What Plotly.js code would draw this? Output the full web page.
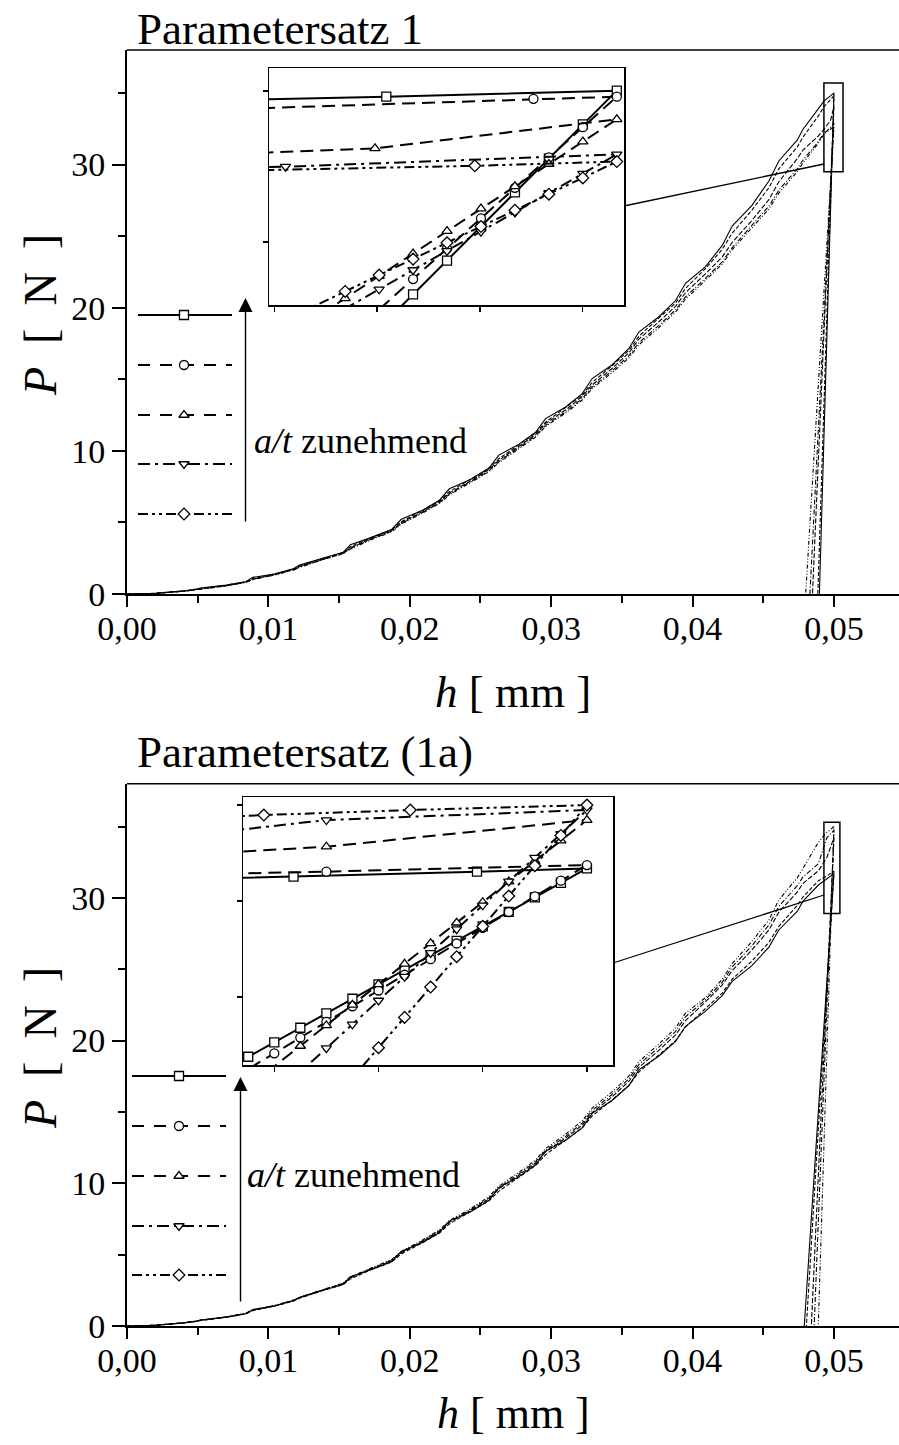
<!DOCTYPE html>
<html>
<head>
<meta charset="utf-8">
<script src="https://cdn.plot.ly/plotly-3.0.1.min.js"></script>
<style>
  html, body { margin: 0; padding: 0; background: #fff; }
  #chart { width: 899px; height: 1445px; }
</style>
</head>
<body>
<div id="chart"></div>
<script>
// Indentation depth h [mm] shared by the loading branches
const hGrid = [0, 0.002, 0.004, 0.0048, 0.0052, 0.007, 0.0084, 0.0089, 0.0105, 0.0118, 0.0122,
  0.0138, 0.0153, 0.0158, 0.0172, 0.0187, 0.0194, 0.0209, 0.0221, 0.0228, 0.0243, 0.0256,
  0.0263, 0.0277, 0.0289, 0.0296, 0.0310, 0.0322, 0.0329, 0.0343, 0.0355, 0.0362, 0.0376,
  0.0388, 0.0395, 0.0409, 0.0421, 0.0428, 0.0442, 0.0454, 0.0461, 0.0474, 0.0478, 0.0489];

// ---- Parametersatz 1: loading force P [N] on hGrid ----
const load1Sq = [0, 0.05, 0.22, 0.30, 0.42, 0.62, 0.86, 1.16, 1.42, 1.78, 2.02, 2.48, 2.92, 3.45, 3.92, 4.50, 5.22, 5.85, 6.55, 7.35, 8.00, 8.80, 9.70, 10.45, 11.30, 12.25, 13.05, 14.00, 15.05, 16.00, 17.15, 18.30, 19.35, 20.50, 21.70, 22.85, 24.35, 25.70, 27.15, 28.85, 30.25, 31.70, 32.45, 33.90];
const load1Ci = [0, 0.05, 0.21, 0.29, 0.38, 0.61, 0.85, 1.08, 1.41, 1.75, 1.95, 2.47, 2.90, 3.30, 3.92, 4.47, 5.05, 5.84, 6.52, 7.15, 8.00, 8.77, 9.45, 10.44, 11.24, 12.00, 13.02, 13.90, 14.78, 15.94, 17.03, 18.00, 19.27, 20.33, 21.35, 22.72, 24.08, 25.20, 26.82, 28.38, 29.70, 31.22, 31.90, 33.40];
const load1Tu = [0, 0.04, 0.20, 0.28, 0.36, 0.58, 0.84, 1.04, 1.38, 1.72, 1.92, 2.42, 2.88, 3.22, 3.85, 4.42, 4.98, 5.75, 6.45, 7.05, 7.90, 8.70, 9.35, 10.30, 11.15, 11.90, 12.85, 13.80, 14.60, 15.75, 16.85, 17.80, 19.00, 20.10, 21.05, 22.35, 23.55, 24.55, 26.10, 27.55, 28.80, 30.40, 31.00, 32.00];
const load1Td = [0, 0.04, 0.20, 0.27, 0.35, 0.57, 0.82, 1.02, 1.36, 1.70, 1.88, 2.40, 2.84, 3.18, 3.80, 4.38, 4.92, 5.70, 6.38, 6.98, 7.82, 8.60, 9.25, 10.20, 11.05, 11.78, 12.72, 13.65, 14.45, 15.58, 16.65, 17.55, 18.75, 19.85, 20.75, 22.05, 23.20, 24.20, 25.75, 27.10, 28.20, 29.70, 30.30, 31.60];
const load1Di = [0, 0.04, 0.19, 0.27, 0.34, 0.56, 0.80, 1.00, 1.34, 1.68, 1.85, 2.38, 2.82, 3.14, 3.76, 4.34, 4.88, 5.66, 6.32, 6.92, 7.76, 8.54, 9.18, 10.12, 10.96, 11.70, 12.62, 13.55, 14.35, 15.45, 16.50, 17.40, 18.60, 19.70, 20.60, 21.90, 23.05, 24.05, 25.60, 26.90, 28.00, 29.50, 30.10, 31.50];

// ---- Parametersatz 1: end of loading, peak and unloading ----
const tailH1Sq = [0.0493, 0.049776, 0.05, 0.049967, 0.049934, 0.049901, 0.049868, 0.049835, 0.049802, 0.04897];
const tailP1Sq = [34.45, 34.81, 35.01, 33.89, 32.76, 31.64, 30.51, 29.38, 28.26, 0];
const tailH1Ci = [0.0493, 0.049919, 0.05, 0.049967, 0.049934, 0.049901, 0.049868, 0.049835, 0.049802, 0.04886];
const tailP1Ci = [34.04, 34.74, 34.81, 33.80, 32.80, 31.79, 30.78, 29.78, 28.77, 0];
const tailH1Tu = [0.0493, 0.049765, 0.05, 0.049967, 0.049934, 0.049901, 0.049868, 0.049835, 0.049802, 0.049769, 0.049736, 0.04848];
const tailP1Tu = [32.47, 33.10, 34.06, 33.32, 32.58, 31.84, 31.10, 30.36, 29.61, 28.87, 28.13, 0];
const tailH1Td = [0.0493, 0.049678, 0.05, 0.049967, 0.049934, 0.049901, 0.049868, 0.049835, 0.049802, 0.049769, 0.04830];
const tailP1Td = [32.20, 32.49, 32.90, 32.26, 31.62, 30.98, 30.34, 29.70, 29.07, 28.43, 0];
const tailH1Di = [0.0493, 0.049862, 0.05, 0.049967, 0.049934, 0.049901, 0.049868, 0.049835, 0.049802, 0.049769, 0.049736, 0.04800];
const tailP1Di = [32.13, 32.52, 32.66, 32.12, 31.58, 31.05, 30.51, 29.97, 29.43, 28.90, 28.36, 0];

// ---- Parametersatz (1a): loading force P [N] on hGrid ----
const load2Sq = [0, 0.05, 0.22, 0.30, 0.42, 0.62, 0.86, 1.16, 1.42, 1.78, 2.02, 2.48, 2.92, 3.45, 3.92, 4.50, 5.22, 5.85, 6.55, 7.35, 8.00, 8.80, 9.70, 10.45, 11.30, 12.25, 13.00, 13.90, 14.90, 15.80, 16.85, 17.95, 18.90, 19.95, 21.00, 22.05, 23.15, 24.15, 25.25, 26.55, 27.75, 29.05, 29.75, 30.90];
const load2Ci = [0, 0.05, 0.21, 0.29, 0.38, 0.61, 0.85, 1.08, 1.41, 1.75, 1.95, 2.47, 2.90, 3.30, 3.92, 4.47, 5.05, 5.84, 6.52, 7.15, 8.00, 8.77, 9.45, 10.44, 11.24, 12.00, 12.98, 13.88, 14.72, 15.82, 16.86, 17.80, 18.97, 20.00, 20.95, 22.22, 23.33, 24.30, 25.57, 26.88, 28.00, 29.47, 30.05, 31.20];
const load2Tu = [0, 0.05, 0.22, 0.30, 0.39, 0.62, 0.87, 1.10, 1.42, 1.79, 1.97, 2.50, 2.96, 3.38, 3.96, 4.56, 5.14, 5.92, 6.62, 7.26, 8.08, 8.90, 9.62, 10.55, 11.42, 12.20, 13.15, 14.08, 14.95, 16.05, 17.15, 18.12, 19.30, 20.40, 21.40, 22.70, 23.90, 24.90, 26.35, 27.75, 29.00, 30.40, 31.00, 31.90];
const load2Td = [0, 0.05, 0.22, 0.31, 0.40, 0.63, 0.88, 1.12, 1.44, 1.81, 1.99, 2.52, 2.98, 3.42, 3.99, 4.60, 5.18, 5.96, 6.68, 7.32, 8.14, 8.97, 9.70, 10.64, 11.52, 12.30, 13.27, 14.22, 15.10, 16.22, 17.33, 18.32, 19.52, 20.65, 21.67, 22.85, 24.10, 25.15, 26.65, 28.10, 29.40, 30.85, 31.45, 32.40];
const load2Di = [0, 0.05, 0.23, 0.31, 0.41, 0.64, 0.89, 1.14, 1.46, 1.83, 2.01, 2.55, 3.01, 3.46, 4.03, 4.65, 5.23, 6.02, 6.74, 7.39, 8.22, 9.06, 9.80, 10.75, 11.64, 12.43, 13.42, 14.38, 15.27, 16.40, 17.52, 18.52, 19.74, 20.88, 21.92, 23.00, 24.30, 25.40, 26.95, 28.45, 29.85, 31.40, 32.05, 33.90];

// ---- Parametersatz (1a): end of loading, peak and unloading ----
const tailH2Sq = [0.049437, 0.049789, 0.05, 0.04995, 0.0499, 0.04985, 0.0498, 0.04975, 0.0497, 0.04965, 0.0496, 0.04955, 0.0495, 0.04945, 0.0494, 0.04935, 0.0479];
const tailP2Sq = [31.27, 31.53, 31.70, 30.95, 30.19, 29.44, 28.68, 27.93, 27.17, 26.42, 25.66, 24.91, 24.15, 23.40, 22.64, 21.89, 0];
const tailH2Ci = [0.0495, 0.05, 0.04995, 0.0499, 0.04985, 0.0498, 0.04975, 0.0497, 0.04965, 0.0496, 0.04955, 0.0495, 0.04945, 0.0494, 0.04805];
const tailP2Ci = [31.53, 31.875, 31.06, 30.24, 29.43, 28.61, 27.79, 26.97, 26.16, 25.34, 24.52, 23.71, 22.89, 22.07, 0];
const tailH2Tu = [0.0495, 0.05, 0.04995, 0.0499, 0.04985, 0.0498, 0.04975, 0.0497, 0.04965, 0.0496, 0.04955, 0.0495, 0.04945, 0.0484];
const tailP2Tu = [32.83, 34.22, 33.15, 32.08, 31.01, 29.94, 28.87, 27.80, 26.73, 25.66, 24.59, 23.52, 22.45, 0];
const tailH2Td = [0.0495, 0.05, 0.04995, 0.0499, 0.04985, 0.0498, 0.04975, 0.0497, 0.04965, 0.0496, 0.04955, 0.0495, 0.0486];
const tailP2Td = [34.22, 34.74, 33.50, 32.26, 31.02, 29.78, 28.54, 27.30, 26.06, 24.82, 23.58, 22.34, 0];
const tailH2Di = [0.04938, 0.049661, 0.05, 0.04995, 0.0499, 0.04985, 0.0498, 0.04975, 0.0497, 0.04965, 0.0496, 0.04889];
const tailP2Di = [34.48, 34.74, 35.0, 33.42, 31.84, 30.26, 28.68, 27.10, 25.52, 23.94, 22.36, 0];

// Axis tick values
const xTickStep = 0.01;
const yTickStep = 10;

// ---------------------------------------------------------------
const W = 899, H = 1445;
const fx = px => px / W;
const fy = py => 1 - py / H;
const FONT = 'Liberation Serif, Times New Roman, serif';

// marker symbol and dash patterns per series (main curve / inset / key)
const styles = [
  { sym: 'square',        main: 'solid',                     inset: 'solid',                        key: 'solid' },
  { sym: 'circle',        main: '4px,2px',                   inset: '13px,7px',                     key: '12px,10px' },
  { sym: 'triangle-up',   main: '5px,2px',                   inset: '13px,7px',                     key: '12px,10px' },
  { sym: 'triangle-down', main: '5px,2px,1px,2px',           inset: '12px,5px,3px,5px',             key: '12px,5px,3px,5px' },
  { sym: 'diamond',       main: '4px,2px,1px,2px,1px,2px',   inset: '10px,4px,3px,4px,3px,4px',     key: '10px,4px,3px,4px,3px,4px' }
];

const panels = [
  {
    loads: [load1Sq, load1Ci, load1Tu, load1Td, load1Di],
    tailsH: [tailH1Sq, tailH1Ci, tailH1Tu, tailH1Td, tailH1Di],
    tailsP: [tailP1Sq, tailP1Ci, tailP1Tu, tailP1Td, tailP1Di],
    main: ['x', 'y'], inset: ['x3', 'y3'],
    keyY: [315, 365, 415, 464, 514], keyX: [138, 184, 232]
  },
  {
    loads: [load2Sq, load2Ci, load2Tu, load2Td, load2Di],
    tailsH: [tailH2Sq, tailH2Ci, tailH2Tu, tailH2Td, tailH2Di],
    tailsP: [tailP2Sq, tailP2Ci, tailP2Tu, tailP2Td, tailP2Di],
    main: ['x2', 'y2'], inset: ['x4', 'y4'],
    keyY: [1076, 1126, 1176, 1226, 1275], keyX: [132, 179, 226]
  }
];

const traces = [];
panels.forEach(p => {
  p.loads.forEach((load, i) => {
    const xs = hGrid.concat(p.tailsH[i]);
    const ys = load.concat(p.tailsP[i]);
    const st = styles[i];
    traces.push({
      type: 'scatter', mode: 'lines', x: xs, y: ys,
      xaxis: p.main[0], yaxis: p.main[1],
      line: { color: '#000', width: 1.1, dash: st.main },
      hoverinfo: 'skip', showlegend: false
    });
    traces.push({
      type: 'scatter', mode: 'lines+markers', x: xs, y: ys,
      xaxis: p.inset[0], yaxis: p.inset[1],
      line: { color: '#000', width: 2, dash: st.inset },
      marker: { symbol: st.sym, size: 9, color: '#fff', line: { color: '#000', width: 1.3 } },
      hoverinfo: 'skip', showlegend: false
    });
    // key sample: line with the series marker in its middle
    const ky = p.keyY[i];
    traces.push({
      type: 'scatter', mode: 'lines+markers', x: p.keyX, y: [ky, ky, ky],
      xaxis: 'x5', yaxis: 'y5',
      line: { color: '#000', width: 1.8, dash: st.key },
      marker: { symbol: st.sym, size: 9, color: '#fff', opacity: [0, 1, 0], line: { color: '#000', width: 1.3 } },
      hoverinfo: 'skip', showlegend: false
    });
  });
});

const mainX = (dom) => ({
  domain: dom, range: [0, 0.0546], dtick: xTickStep, tick0: 0, tickformat: '.2f',
  showline: true, linewidth: 2, linecolor: '#000', ticks: 'outside', ticklen: 11, tickwidth: 2, tickcolor: '#000',
  minor: { dtick: xTickStep / 2, ticks: 'outside', ticklen: 7, tickwidth: 2, tickcolor: '#000' },
  ticklabelstandoff: -8,
  showgrid: false, zeroline: false, fixedrange: true,
  tickfont: { family: FONT, size: 34, color: '#000' }
});
const mainY = (dom, anchor) => ({
  domain: dom, range: [0, 38], dtick: yTickStep, tick0: 0, anchor: anchor,
  showline: true, linewidth: 2, linecolor: '#000', ticks: 'outside', ticklen: 13, tickwidth: 2, tickcolor: '#000',
  minor: { dtick: yTickStep / 2, ticks: 'outside', ticklen: 7, tickwidth: 2, tickcolor: '#000' },
  showgrid: false, zeroline: false, fixedrange: true,
  tickfont: { family: FONT, size: 34, color: '#000' }
});
const insetAxis = (dom, range, tick0, dtick, anchor) => ({
  domain: dom, range: range, tick0: tick0, dtick: dtick, anchor: anchor,
  showline: true, mirror: true, linewidth: 1.5, linecolor: '#000',
  ticks: 'outside', ticklen: 5, tickwidth: 1.2, tickcolor: '#000',
  showticklabels: false, showgrid: false, zeroline: false, fixedrange: true
});

// pixel frames of the two panels
const top1 = 50, base1 = 594, top2 = 783.7, base2 = 1326, left = 127;
const wide = '\u2002';

const layout = {
  width: W, height: H,
  margin: { l: 0, r: 0, t: 0, b: 0 },
  paper_bgcolor: '#fff', plot_bgcolor: 'rgba(0,0,0,0)',
  separators: ',.',
  showlegend: false,
  font: { family: FONT, color: '#000' },
  xaxis: Object.assign(mainX([fx(left), 1]), { anchor: 'y' }),
  yaxis: mainY([fy(base1), fy(top1)], 'x'),
  xaxis2: Object.assign(mainX([fx(left), 1]), { anchor: 'y2' }),
  yaxis2: mainY([fy(base2), fy(top2)], 'x2'),
  xaxis3: insetAxis([fx(269), fx(624)], [0.049662, 0.050007], 0.049967, 0.0001, 'y3'),
  yaxis3: insetAxis([fy(305), fy(68)], [27.91, 35.76], 0, 5, 'x3'),
  xaxis4: insetAxis([fx(243), fx(613)], [0.04934, 0.05005], 0.05, 0.0002, 'y4'),
  yaxis4: insetAxis([fy(1065), fy(797)], [21.46, 35.42], 0, 5, 'x4'),
  xaxis5: { domain: [0, 1], range: [0, W], visible: false, fixedrange: true, anchor: 'y5' },
  yaxis5: { domain: [0, 1], range: [H, 0], visible: false, fixedrange: true, anchor: 'x5' },
  shapes: [
    // upper frame lines
    { type: 'line', xref: 'paper', yref: 'paper', x0: fx(left), x1: 1, y0: fy(top1), y1: fy(top1), line: { color: '#000', width: 1.5 } },
    { type: 'line', xref: 'paper', yref: 'paper', x0: fx(left), x1: 1, y0: fy(top2), y1: fy(top2), line: { color: '#000', width: 1.5 } },
    // zoom windows around the peak
    { type: 'rect', xref: 'x', yref: 'y', x0: 0.04929, x1: 0.05064, y0: 29.5, y1: 35.7, line: { color: '#000', width: 1.5 } },
    { type: 'rect', xref: 'x2', yref: 'y2', x0: 0.04929, x1: 0.05042, y0: 28.9, y1: 35.3, line: { color: '#000', width: 1.5 } },
    // connectors from window to inset
    { type: 'line', xref: 'paper', yref: 'paper', x0: fx(624), y0: fy(206), x1: fx(824), y1: fy(164), line: { color: '#000', width: 1.3 } },
    { type: 'line', xref: 'paper', yref: 'paper', x0: fx(613), y0: fy(963), x1: fx(824), y1: fy(895), line: { color: '#000', width: 1.3 } }
  ],
  annotations: [
    { xref: 'paper', yref: 'paper', x: fx(135), y: fy(29), xanchor: 'left', yanchor: 'middle', showarrow: false,
      text: 'Parametersatz 1', font: { family: FONT, size: 45, color: '#000' } },
    { xref: 'paper', yref: 'paper', x: fx(135), y: fy(752), xanchor: 'left', yanchor: 'middle', showarrow: false,
      text: 'Parametersatz (1a)', font: { family: FONT, size: 45, color: '#000' } },
    { xref: 'paper', yref: 'paper', x: fx(513), y: fy(692), xanchor: 'center', yanchor: 'middle', showarrow: false,
      text: '<i>h</i> [ mm ]', font: { family: FONT, size: 45, color: '#000' } },
    { xref: 'paper', yref: 'paper', x: fx(513), y: fy(1413), xanchor: 'center', yanchor: 'middle', showarrow: false,
      text: '<i>h</i> [ mm ]', font: { family: FONT, size: 44, color: '#000' } },
    { xref: 'paper', yref: 'paper', x: fx(40), y: fy(315), xanchor: 'center', yanchor: 'middle', showarrow: false, textangle: -90,
      text: '<i>P</i>' + wide + '[' + wide + 'N' + wide + ']', font: { family: FONT, size: 46, color: '#000' } },
    { xref: 'paper', yref: 'paper', x: fx(40), y: fy(1048), xanchor: 'center', yanchor: 'middle', showarrow: false, textangle: -90,
      text: '<i>P</i>' + wide + '[' + wide + 'N' + wide + ']', font: { family: FONT, size: 46, color: '#000' } },
    { xref: 'paper', yref: 'paper', x: fx(252), y: fy(441), xanchor: 'left', yanchor: 'middle', showarrow: false,
      text: '<i>a/t</i> zunehmend', font: { family: FONT, size: 36, color: '#000' } },
    { xref: 'paper', yref: 'paper', x: fx(245), y: fy(1175), xanchor: 'left', yanchor: 'middle', showarrow: false,
      text: '<i>a/t</i> zunehmend', font: { family: FONT, size: 36, color: '#000' } },
    // "increasing" arrows next to the key
    { xref: 'x5', yref: 'y5', axref: 'x5', ayref: 'y5', x: 245.5, y: 298, ax: 245.5, ay: 523, text: '',
      showarrow: true, arrowhead: 2, arrowsize: 2, arrowwidth: 1.4, arrowcolor: '#000', standoff: 0, startstandoff: 0 },
    { xref: 'x5', yref: 'y5', axref: 'x5', ayref: 'y5', x: 240.5, y: 1077, ax: 240.5, ay: 1303, text: '',
      showarrow: true, arrowhead: 2, arrowsize: 2, arrowwidth: 1.4, arrowcolor: '#000', standoff: 0, startstandoff: 0 }
  ]
};

Plotly.newPlot('chart', traces, layout, { staticPlot: true, displayModeBar: false });
</script>
</body>
</html>
